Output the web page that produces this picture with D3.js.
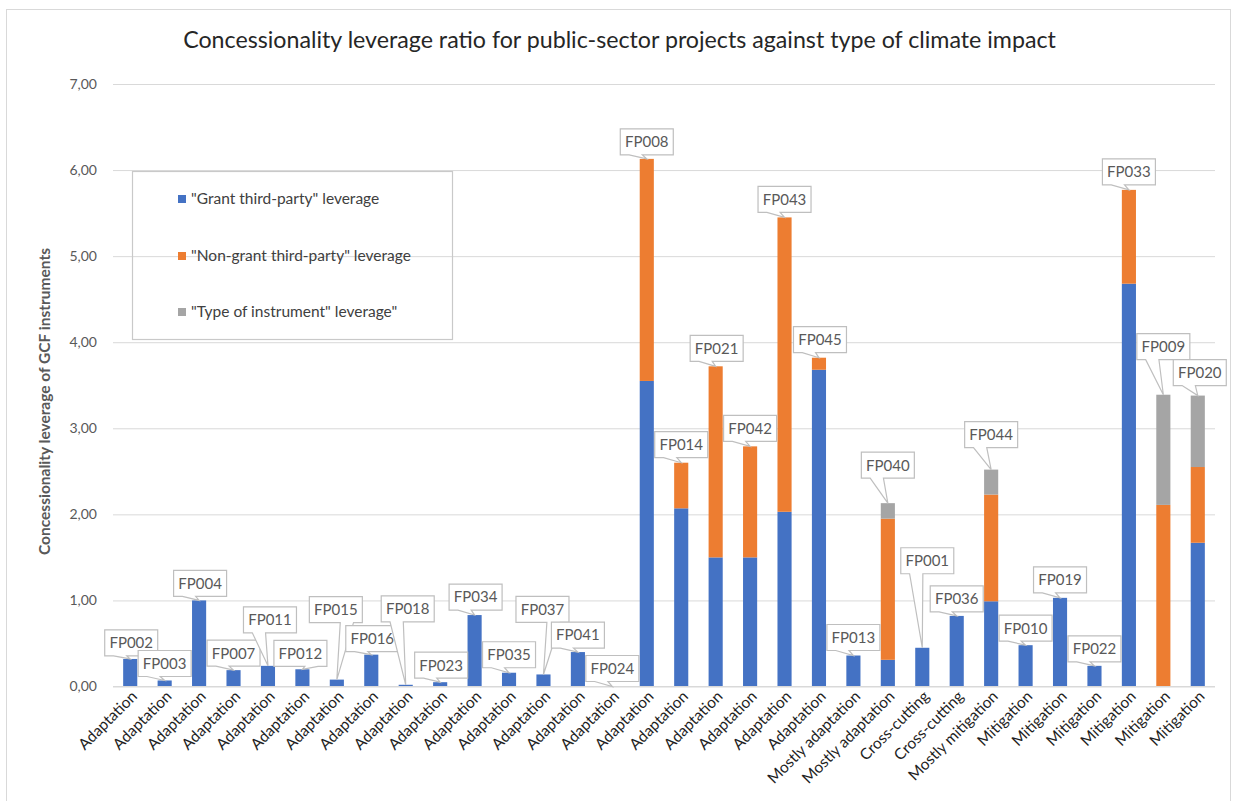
<!DOCTYPE html>
<html>
<head>
<meta charset="utf-8">
<script src="https://cdn.jsdelivr.net/npm/d3@7"></script>
<style>
  html, body { margin: 0; padding: 0; background: #ffffff; }
  svg { display: block; }
  text { font-family: Lato, "Open Sans", "Liberation Sans", sans-serif; }
</style>
</head>
<body>
<svg id="chart" width="1238" height="801"></svg>
<script>
// ---------------- data ----------------
const chartTitle = "Concessionality leverage ratio for public-sector projects against type of climate impact";
const yAxisTitle = "Concessionality leverage of GCF instruments";

const projects = ["FP002","FP003","FP004","FP007","FP011","FP012","FP015","FP016","FP018","FP023",
  "FP034","FP035","FP037","FP041","FP024","FP008","FP014","FP021","FP042","FP043","FP045",
  "FP013","FP040","FP001","FP036","FP044","FP010","FP019","FP022","FP033","FP009","FP020"];

const categories = ["Adaptation","Adaptation","Adaptation","Adaptation","Adaptation","Adaptation",
  "Adaptation","Adaptation","Adaptation","Adaptation","Adaptation","Adaptation","Adaptation",
  "Adaptation","Adaptation","Adaptation","Adaptation","Adaptation","Adaptation","Adaptation",
  "Adaptation","Mostly adaptation","Mostly adaptation","Cross-cutting","Cross-cutting",
  "Mostly mitigation","Mitigation","Mitigation","Mitigation","Mitigation","Mitigation","Mitigation"];

const grantLeverage = [0.32,0.07,1.00,0.19,0.24,0.20,0.08,0.37,0.02,0.05,
  0.83,0.16,0.14,0.40,0.00,3.55,2.07,1.50,1.50,2.03,3.68,
  0.36,0.31,0.45,0.82,0.99,0.48,1.03,0.24,4.68,0.00,1.67];

const nonGrantLeverage = [0,0,0,0,0,0,0,0,0,0,
  0,0,0,0,0,2.58,0.53,2.22,1.29,3.42,0.14,
  0,1.64,0,0,1.24,0,0,0,1.09,2.11,0.88];

const instrumentLeverage = [0,0,0,0,0,0,0,0,0,0,
  0,0,0,0,0,0,0,0,0,0,0,
  0,0.18,0,0,0.29,0,0,0,0,1.28,0.83];

const seriesNames = ["\"Grant third-party\" leverage",
                     "\"Non-grant third-party\" leverage",
                     "\"Type of instrument\" leverage\""];
const seriesColors = ["#4472C4", "#ED7D31", "#A5A5A5"];

const yTicks = [0,1,2,3,4,5,6,7];
const yDomain = [0, 7];

// label callout nudges (layout only): [dx, dy] of box centre relative to bar top
const labelNudges = [[1,-16],[0,-17],[1,-17],[0,-17],[2,-46],[-2,-16],[-1,-70],[1,-16],[2,-76],[1,-17],
  [1,-18],[0,-18],[-1,-65],[0,-17],[0,-18],[0,-17],[0,-18],[1,-18],[0,-18],[0,-18],[1,-18],
  [0,-18],[0,-38],[5,-87],[0,-17],[0,-35],[0,-17],[0,-18],[0,-17],[0,-18],[0,-48],[2,-23]];

// ---------------- layout ----------------
const plot = { left: 113, right: 1215, top: 84, bottom: 686.5 };

const svg = d3.select("#chart");

// chart border
svg.append("rect")
  .attr("x", 6.5).attr("y", 9.5)
  .attr("width", 1224).attr("height", 820)
  .attr("fill", "#ffffff").attr("stroke", "#d9d9d9").attr("stroke-width", 1);

const rows = projects.map((p, i) => ({
  id: i, project: p, category: categories[i],
  grant: grantLeverage[i], nongrant: nonGrantLeverage[i], instrument: instrumentLeverage[i]
}));
const keys = ["grant", "nongrant", "instrument"];

const x = d3.scaleBand()
  .domain(rows.map(d => d.id))
  .range([plot.left, plot.right])
  .paddingInner(0.59)
  .paddingOuter(0.295);

const y = d3.scaleLinear().domain(yDomain).range([plot.bottom, plot.top]);

// gridlines
const grid = svg.append("g")
  .attr("transform", `translate(${plot.left},0)`)
  .call(d3.axisLeft(y).tickValues(yTicks).tickSize(-(plot.right - plot.left)).tickFormat(""));
grid.select(".domain").remove();
grid.selectAll(".tick line").attr("stroke", "#d9d9d9").attr("stroke-width", 1);

// y tick labels
const yAxis = svg.append("g")
  .attr("transform", `translate(${plot.left - 13},0)`)
  .call(d3.axisLeft(y).tickValues(yTicks).tickSize(0)
    .tickFormat(d => d3.format(".2f")(d).replace(".", ",")));
yAxis.select(".domain").remove();
yAxis.selectAll("text")
  .attr("fill", "#595959")
  .style("font-size", "14px")
  .style("font-family", "Lato, 'Open Sans', sans-serif");

// legend box (no fill, gridlines show through)
const legend = svg.append("g");
legend.append("rect")
  .attr("x", 132.5).attr("y", 171.5).attr("width", 320).attr("height", 168)
  .attr("fill", "none").attr("stroke", "#c9c9c9").attr("stroke-width", 1.2);
const legendY = [199, 256, 312];
seriesNames.forEach((name, i) => {
  legend.append("rect")
    .attr("x", 178).attr("y", legendY[i] - 4).attr("width", 8).attr("height", 8)
    .attr("fill", seriesColors[i]);
  legend.append("text")
    .attr("x", 191).attr("y", legendY[i]).attr("dy", "0.35em")
    .attr("fill", "#404040").style("font-size", "15.5px")
    .text(name);
});

// stacked bars
const stacked = d3.stack().keys(keys)(rows);
svg.append("g").selectAll("g")
  .data(stacked)
  .join("g")
  .attr("fill", (d, i) => seriesColors[i])
  .selectAll("rect")
  .data(d => d)
  .join("rect")
  .attr("x", d => x(d.data.id))
  .attr("width", x.bandwidth())
  .attr("y", d => y(d[1]))
  .attr("height", d => Math.max(0, y(d[0]) - y(d[1])));

// axis line
svg.append("line")
  .attr("x1", plot.left).attr("x2", plot.right)
  .attr("y1", y(0)).attr("y2", y(0))
  .attr("stroke", "#d9d9d9").attr("stroke-width", 1.2);

// x category labels
svg.append("g").selectAll("text")
  .data(rows)
  .join("text")
  .attr("transform", d => `translate(${x(d.id) + x.bandwidth() / 2 + 4},${plot.bottom + 7}) rotate(-45)`)
  .attr("text-anchor", "end")
  .attr("dy", "0.35em")
  .attr("fill", "#1f1f1f")
  .style("font-size", "15.5px")
  .text(d => d.category);

// data callouts
const boxW = 53, boxH = 26;
const callouts = svg.append("g");
rows.forEach((d, i) => {
  const total = d.grant + d.nongrant + d.instrument;
  const tipX = x(d.id) + x.bandwidth() / 2;
  const tipY = y(total);
  const cx = tipX + labelNudges[i][0];
  const cy = tipY + labelNudges[i][1];
  const l = cx - boxW / 2, r = cx + boxW / 2, t = cy - boxH / 2, b = cy + boxH / 2;
  // wedge base on bottom edge (OOXML wedgeRectCallout style)
  const dxPos = tipX - cx;
  const g1 = dxPos > 0 ? 7 : 2, g2 = dxPos > 0 ? 10 : 5;
  const x1 = l + boxW * g1 / 12, x2 = l + boxW * g2 / 12;
  const path = `M${l},${t}H${r}V${b}H${x2}L${tipX},${tipY}L${x1},${b}H${l}Z`;
  callouts.append("path")
    .attr("d", path)
    .attr("fill", "#ffffff")
    .attr("stroke", "#bfbfbf")
    .attr("stroke-width", 1.2)
    .attr("stroke-linejoin", "miter");
  callouts.append("text")
    .attr("x", cx).attr("y", cy).attr("dy", "0.36em")
    .attr("text-anchor", "middle")
    .attr("fill", "#595959")
    .style("font-size", "15px")
    .text(d.project);
});

// title
const title = svg.append("text")
  .attr("x", 619.5).attr("y", 40).attr("dy", "0.35em")
  .attr("text-anchor", "middle")
  .attr("fill", "#262626")
  .style("font-size", "20px")
  .text(chartTitle);
const tw = title.node().getComputedTextLength();
title.style("font-size", (20 * 873 / tw).toFixed(2) + "px");

// y axis title
const yt = svg.append("text")
  .attr("transform", `translate(45,${(248 + 555) / 2}) rotate(-90)`)
  .attr("text-anchor", "middle")
  .attr("dy", "0.35em")
  .attr("fill", "#595959")
  .style("font-size", "14px")
  .style("font-weight", "bold")
  .text(yAxisTitle);
const ytw = yt.node().getComputedTextLength();
yt.style("font-size", (14 * 307 / ytw).toFixed(2) + "px");
</script>
</body>
</html>
